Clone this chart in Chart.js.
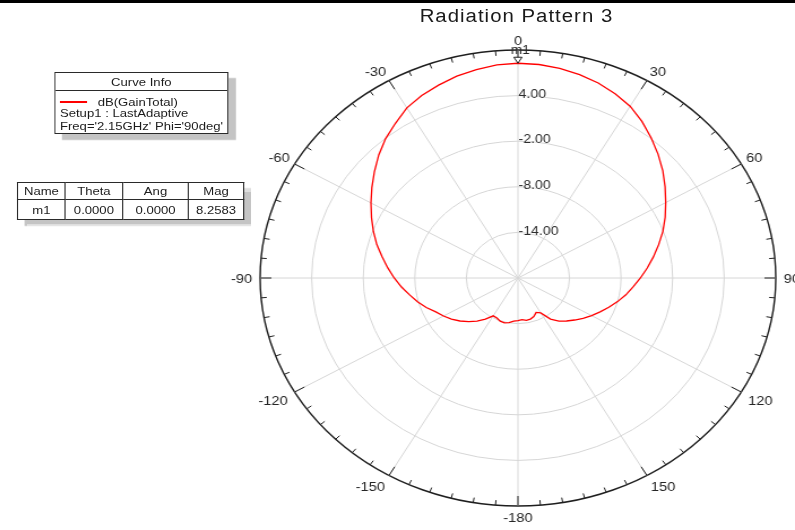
<!DOCTYPE html>
<html>
<head>
<meta charset="utf-8">
<title>Radiation Pattern 3</title>
<script src="https://cdn.jsdelivr.net/npm/chart.js@4/dist/chart.umd.min.js"></script>
<style>
  html, body { margin: 0; padding: 0; background: #fff; overflow: hidden; }
  body { width: 795px; height: 530px; position: relative; }
  /* the plot sheet is laid out on a narrower grid and widened to fill the page */
  #sheet {
    position: absolute; left: 0; top: 0; width: 703px; height: 530px;
    transform: scaleX(1.13087); transform-origin: 0 0;
    font-family: "Liberation Sans", Arial, sans-serif; color: #1c1c1c;
  }
  #topRule { position: absolute; left: 0; top: 0; width: 703px; height: 3px; background: #000; }
  #polar { position: absolute; left: 0; top: 0; width: 703px; height: 530px; }
  #title {
    position: absolute; left: 306.7px; top: 7px; width: 300px; text-align: center;
    font-size: 18px; line-height: 18px; letter-spacing: 0.9px; color: #1a1a1a;
  }
  .panel {
    position: absolute; box-sizing: border-box; background: #fff;
    border: 1px solid #2a2a2a; box-shadow: 7px 6px 1px #c4c4c4;
    font-size: 11.6px; line-height: 12px;
  }
  .panel .hdr {
    height: 17px; line-height: 17px; text-align: center; border-bottom: 1px solid #2a2a2a;
  }
  .panel .txt { position: absolute; white-space: nowrap; }
  .panel .swatch { position: absolute; height: 2px; background: #ff0000; }
  #markerTable { border-collapse: collapse; table-layout: fixed; }
  #markerTable td {
    border: 1px solid #2a2a2a; text-align: center; padding: 0;
    font-size: 11.6px; line-height: 12px; white-space: nowrap;
  }
</style>
</head>
<body>
<div id="sheet">
  <div id="topRule"></div>
  <canvas id="polar" width="703" height="530"></canvas>
  <div id="title">Radiation Pattern 3</div>

  <div id="curveInfo" class="panel" style="left:48px;top:72.3px;width:154px;height:62px;">
    <div class="hdr">Curve Info</div>
    <span class="swatch" style="left:4px;top:27.4px;width:24px;"></span>
    <span class="txt" id="traceName" style="left:37.4px;top:22.4px;"></span>
    <span class="txt" id="traceSetup" style="left:4px;top:34px;"></span>
    <span class="txt" id="traceSweep" style="left:4px;top:46.7px;"></span>
  </div>

  <div id="markerPanel" class="panel" style="left:14.8px;top:182px;width:200px;height:38px;border:none;">
    <table id="markerTable" style="width:200px;height:38px;">
      <colgroup><col style="width:42.7px"><col style="width:50.1px"><col style="width:58.9px"><col style="width:48.3px"></colgroup>
      <tbody id="markerBody"></tbody>
    </table>
  </div>
</div>

<script>
// Elevation cut, theta measured clockwise from the top, 5 degree steps
const angleLabels = [
  '0','5','10','15','20','25','30','35','40','45','50','55',
  '60','65','70','75','80','85','90','95','100','105','110','115',
  '120','125','130','135','140','145','150','155','160','165','170','175',
  '-180','-175','-170','-165','-160','-155','-150','-145','-140','-135','-130','-125',
  '-120','-115','-110','-105','-100','-95','-90','-85','-80','-75','-70','-65',
  '-60','-55','-50','-45','-40','-35','-30','-25','-20','-15','-10','-5'
];

// dB(GainTotal) at each angle above
const gainDb = [
  8.2583, 8.20, 8.00, 7.70, 7.30, 6.75, 6.10, 5.15, 4.10, 3.05, 2.00, 0.90,
  -0.15, -1.10, -2.05, -3.05, -4.00, -4.90, -5.75, -6.55, -7.25, -8.00, -8.75, -9.45,
  -10.10, -10.75, -11.40, -12.00, -12.60, -13.40, -14.70, -15.00, -14.60, -14.40, -14.35, -14.50,
  -14.40, -14.30, -14.05, -13.90, -13.95, -14.20, -14.25, -13.40, -12.60, -11.90, -11.20, -10.55,
  -10.00, -9.45, -8.65, -7.90, -7.20, -6.40, -5.60, -4.80, -3.95, -3.00, -2.10, -1.20,
  -0.25, 0.75, 1.80, 2.90, 3.95, 4.85, 5.85, 6.50, 7.00, 7.50, 7.85, 8.15
];

// radial axis range (dB)
const radialMin = -20;
const radialMax = 10;
const radialStep = 6;

// marker table
const markerNames = ['m1'];
const markerTheta = [0];
const markerAng = [0];
const markerMag = [8.2583];
const markerHeaders = ['Name', 'Theta', 'Ang', 'Mag'];

// curve info lines
const traceName = 'dB(GainTotal)';
const traceSetup = 'Setup1 : LastAdaptive';
const traceSweep = "Freq='2.15GHz' Phi='90deg'";

document.getElementById('traceName').textContent = traceName;
document.getElementById('traceSetup').textContent = traceSetup;
document.getElementById('traceSweep').textContent = traceSweep;

(function buildMarkerTable() {
  const body = document.getElementById('markerBody');
  const head = document.createElement('tr');
  head.style.height = '17px';
  markerHeaders.forEach(h => {
    const td = document.createElement('td');
    td.textContent = h;
    head.appendChild(td);
  });
  body.appendChild(head);
  markerNames.forEach((name, i) => {
    const tr = document.createElement('tr');
    tr.style.height = '19px';
    [name, markerTheta[i].toFixed(4), markerAng[i].toFixed(4), markerMag[i].toFixed(4)].forEach(v => {
      const td = document.createElement('td');
      td.textContent = v;
      tr.appendChild(td);
    });
    body.appendChild(tr);
  });
})();

const labelFont = '13px "Liberation Sans", Arial, sans-serif';
const tickFont = '12.5px "Liberation Sans", Arial, sans-serif';

// rim ticks, angle labels, ring values and the m1 marker
const polarDecor = {
  id: 'polarDecor',
  afterDatasetsDraw(chart) {
    const scale = chart.scales.r;
    const ctx = chart.ctx;
    const R = scale.drawingArea;
    ctx.save();

    // ticks on the outer ring: short every 5 deg, long every 30 deg
    ctx.strokeStyle = '#1e1e1e';
    ctx.lineWidth = 1;
    ctx.beginPath();
    angleLabels.forEach((lab, i) => {
      const len = Number(lab) % 30 === 0 ? 10 : 5;
      const a = scale.getPointPosition(i, R);
      const b = scale.getPointPosition(i, R - len);
      ctx.moveTo(a.x, a.y);
      ctx.lineTo(b.x, b.y);
    });
    ctx.stroke();

    // angle labels every 30 deg
    ctx.font = labelFont;
    ctx.fillStyle = '#262626';
    ctx.textBaseline = 'alphabetic';
    const half = 4.65;
    angleLabels.forEach((lab, i) => {
      if (Number(lab) % 30 !== 0) return;
      const deg = Math.round(scale.getIndexAngle(i) * 180 / Math.PI) % 360;
      const upper = deg < 90 || deg > 270;
      const pad = upper ? 5 : 7;
      const p = scale.getPointPosition(i, R + pad);
      let align = 'center';
      if (deg > 0 && deg < 180) align = 'left';
      else if (deg > 180) align = 'right';
      let cy = p.y;
      if (deg === 90 || deg === 270) cy = p.y;
      else if (upper) cy = p.y - half;
      else cy = p.y + half;
      ctx.textAlign = align;
      ctx.fillText(lab, p.x, cy + half);
    });

    // ring values along the 0 deg spoke
    ctx.font = tickFont;
    ctx.fillStyle = '#2e2e2e';
    ctx.textAlign = 'left';
    scale.ticks.forEach((t, i) => {
      if (i === 0 || t.value === radialMax) return;
      const y = scale.yCenter - scale.getDistanceFromCenterForValue(t.value);
      ctx.fillText(t.value.toFixed(2), scale.xCenter + 0.5, y + 2.1);
    });

    // m1 marker
    markerNames.forEach((name, k) => {
      const idx = angleLabels.indexOf(String(markerTheta[k]));
      const p = scale.getPointPositionForValue(idx, markerMag[k]);
      ctx.beginPath();
      ctx.moveTo(p.x, p.y);
      ctx.lineTo(p.x - 3.6, p.y - 6);
      ctx.lineTo(p.x + 3.6, p.y - 6);
      ctx.closePath();
      ctx.fillStyle = '#ffffff';
      ctx.fill();
      ctx.strokeStyle = '#1e1e1e';
      ctx.lineWidth = 1;
      ctx.stroke();
      ctx.font = '12px "Liberation Sans", Arial, sans-serif';
      ctx.fillStyle = '#262626';
      ctx.textAlign = 'center';
      ctx.fillText(name, p.x + 2, p.y - 9.5);
    });

    ctx.restore();
  }
};

new Chart(document.getElementById('polar'), {
  type: 'radar',
  data: {
    labels: angleLabels,
    datasets: [{
      label: traceName,
      data: gainDb,
      borderColor: '#ff0000',
      backgroundColor: 'rgba(0,0,0,0)',
      borderWidth: 1.3,
      pointRadius: 0,
      pointHoverRadius: 0,
      fill: false,
      tension: 0
    }]
  },
  options: {
    responsive: false,
    animation: false,
    devicePixelRatio: 1,
    layout: { padding: { left: 230, right: 17, top: 50, bottom: 24 } },
    plugins: { legend: { display: false }, tooltip: { enabled: false }, title: { display: false } },
    scales: {
      r: {
        min: radialMin,
        max: radialMax,
        startAngle: 0,
        beginAtZero: false,
        ticks: { display: false, stepSize: radialStep },
        pointLabels: { display: false },
        grid: {
          circular: true,
          color: c => (c.tick && c.tick.value === radialMax) ? '#1e1e1e' : '#d6d6d6',
          lineWidth: c => (c.tick && c.tick.value === radialMax) ? 1.4 : 1
        },
        angleLines: {
          color: '#d6d6d6',
          lineWidth: c => (Number(angleLabels[c.index]) % 30 === 0) ? 1 : 0
        }
      }
    }
  },
  plugins: [polarDecor]
});
</script>
</body>
</html>
